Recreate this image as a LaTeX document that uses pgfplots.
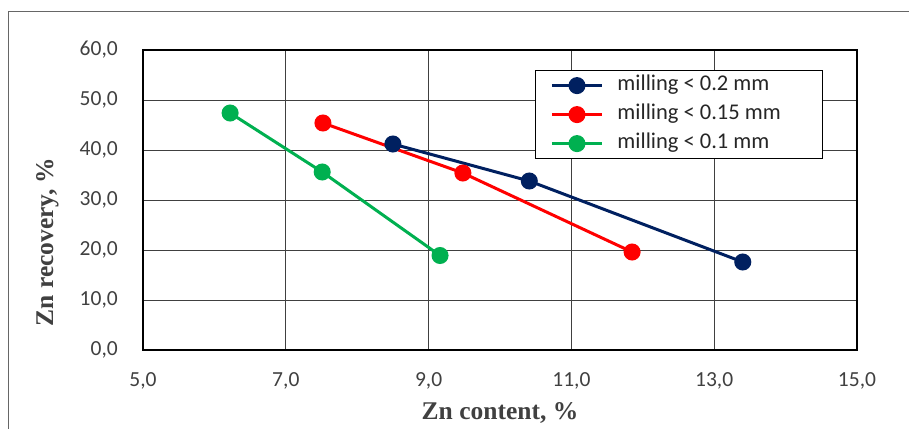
\documentclass[border=0pt]{standalone}
\usepackage{fontspec}
\setmainfont{Carlito}
\newfontfamily\tnr{Liberation Serif}
\usepackage{pgfplots}
\pgfplotsset{compat=1.18}
\definecolor{navy}{HTML}{002060}
\definecolor{xred}{HTML}{FF0000}
\definecolor{xgreen}{HTML}{00B050}
\definecolor{txt}{HTML}{404040}
\begin{document}
\begin{tikzpicture}[x=1bp,y=1bp]
\useasboundingbox (0,0) rectangle (909,428);
\clip (0,0) rectangle (909,428);
\draw[color=black!60, line width=1bp] (8,-10) -- (8,416) -- (920,416);
\begin{axis}[
  at={(143bp,78bp)}, anchor=south west,
  scale only axis, width=714bp, height=300bp,
  xmin=5, xmax=15, ymin=0, ymax=60,
  xtick={5,7,9,11,13,15}, ytick={0,10,20,30,40,50,60},
  major tick length=0pt,
  grid=major,
  major grid style={line width=0.8bp, color=black!75},
  axis line style={line width=1.6bp, color=black},
  /pgf/number format/.cd, use comma, fixed, fixed zerofill, precision=1, assume math mode=true,
  /pgfplots/.cd,
  tick label style={font=\fontsize{21.5bp}{24bp}\selectfont, color=txt, inner sep=0pt},
  xticklabel style={anchor=center, yshift=-31bp},
  yticklabel style={anchor=east, xshift=-25bp},
  xlabel={Zn content, \%},
  ylabel={Zn recovery, \%},
  label style={font=\tnr\bfseries\fontsize{25.5bp}{28bp}\selectfont, color=txt},
  x label style={at={(axis description cs:0.5,0)}, anchor=center, yshift=-63bp},
  y label style={at={(axis description cs:-0.134,0.36)}, rotate=0, anchor=center},
  legend style={at={(0.549,0.933)}, anchor=north west, draw=black, line width=1bp,
    font=\fontsize{22.5bp}{25bp}\selectfont, text=black!85,
    inner xsep=15bp, inner ysep=3bp, row sep=5bp, column sep=12bp,
    nodes={text height=15bp, text depth=5bp, inner sep=2bp, anchor=west}},
  legend cell align=left,
  legend image code/.code={
    \draw[#1, mark repeat=2, mark phase=2] plot coordinates {(0bp,0bp) (25bp,0bp) (50bp,0bp)};
  },
]
\addplot[navy, line width=3bp, mark=*, mark size=7bp, mark options={solid}] coordinates {(8.50,41.2) (10.41,33.8) (13.40,17.6)};
\addlegendentry{\makebox[188bp][l]{milling < 0.2 mm}}
\addplot[xred, line width=3bp, mark=*, mark size=7bp, mark options={solid}] coordinates {(7.52,45.4) (9.48,35.4) (11.85,19.6)};
\addlegendentry{\makebox[188bp][l]{milling < 0.15 mm}}
\addplot[xgreen, line width=3bp, mark=*, mark size=7bp, mark options={solid}] coordinates {(6.22,47.4) (7.51,35.6) (9.16,18.9)};
\addlegendentry{\makebox[188bp][l]{milling < 0.1 mm}}
\end{axis}
\end{tikzpicture}
\end{document}
